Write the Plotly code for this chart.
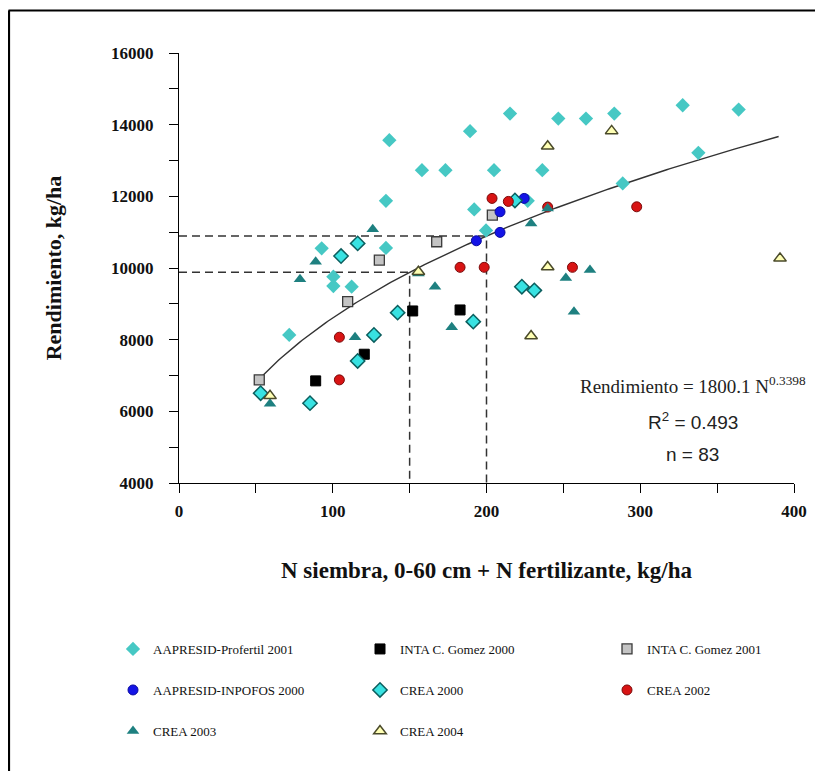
import numpy as np
import plotly.graph_objects as go

# ---------------- data ----------------
profertil_x = [136.8, 189.3, 158.0, 173.3, 134.6, 192.0, 204.9, 199.7, 92.8, 134.6, 100.4, 100.4,
               112.3, 71.7, 215.3, 246.7, 264.7, 283.1, 327.6, 364.0, 337.8, 236.3, 288.6, 226.8]
profertil_y = [13567, 13818, 12731, 12731, 11875, 11635, 12731, 11050, 10548, 10560, 9757, 9497,
               9478, 8132, 14310, 14171, 14171, 14310, 14542, 14422, 13213, 12731, 12360, 11875]

inta2000_x = [152.0, 182.8, 120.5, 88.9]
inta2000_y = [8801, 8829, 7594, 6850]

inta2001_x = [167.6, 130.3, 109.7, 52.2, 203.8]
inta2001_y = [10733, 10222, 9060, 6878, 11477]

infopos_x = [193.4, 208.8, 208.8, 224.5]
infopos_y = [10760, 11569, 10994, 11942]

crea2000_x = [116.2, 105.4, 142.2, 191.4, 126.8, 116.2, 53.1, 85.2, 218.5, 223.0, 231.1]
crea2000_y = [10687, 10334, 8754, 8503, 8132, 7407, 6507, 6228, 11885, 9478, 9376]

crea2002_x = [182.8, 198.5, 104.3, 104.3, 203.6, 214.2, 239.8, 297.7, 255.9]
crea2002_y = [10019, 10019, 8068, 6878, 11942, 11858, 11700, 11708, 10019]

crea2003_x = [126.0, 88.9, 78.7, 155.7, 166.5, 177.4, 114.5, 59.2, 239.8, 229.0, 251.6, 267.3, 256.9]
crea2003_y = [11078, 10175, 9684, 9850, 9478, 8347, 8068, 6209, 11663, 11245, 9721, 9944, 8781]

crea2004_x = [155.7, 59.2, 281.4, 239.8, 239.8, 390.9, 229.0]
crea2004_y = [9896, 6432, 13826, 13400, 10027, 10269, 8104]

# fitted model  Rendimiento = a * N^b
fit_a = 1800.1
fit_b = 0.3398
fit_range = [53, 390]
ref_n = [150, 200]

x_ticks = [0, 100, 200, 300, 400]
y_ticks = [4000, 6000, 8000, 10000, 12000, 14000, 16000]
y_tick_labels = ["4000", "6000", "8000", "10000", "12000", "14000", "16000"]

# ---------------- figure ----------------
SERIF = "Liberation Serif, DejaVu Serif, serif"
NARROW = "Liberation Sans Narrow, Arial Narrow, Liberation Sans, sans-serif"
LINEC = "#333333"

fig = go.Figure()

# dashed reference lines
for n in ref_n:
    yv = fit_a * n ** fit_b
    fig.add_trace(go.Scatter(x=[0, n, n], y=[yv, yv, 4000], mode="lines",
                             line=dict(color=LINEC, width=1.5, dash="8px,5px"),
                             showlegend=False, hoverinfo="skip"))

# fitted curve
xc = np.linspace(fit_range[0], fit_range[1], 200)
fig.add_trace(go.Scatter(x=xc, y=fit_a * xc ** fit_b, mode="lines",
                         line=dict(color=LINEC, width=1.4), showlegend=False, hoverinfo="skip"))

series = [
    ("AAPRESID-Profertil 2001", profertil_x, profertil_y, "diamond", 11, "#46C8C4", "#46C8C4", 0, "legend"),
    ("INTA C. Gomez 2000", inta2000_x, inta2000_y, "square", 10, "#000000", "#000000", 1, "legend"),
    ("INTA C. Gomez 2001", inta2001_x, inta2001_y, "square", 10, "#C4C4C4", "#3A3A3A", 1.3, "legend"),
    ("AAPRESID-INPOFOS 2000", infopos_x, infopos_y, "circle", 10, "#1414E6", "#0A0AA0", 1, "legend2"),
    ("CREA 2000", crea2000_x, crea2000_y, "diamond", 11, "#38E2E2", "#0B5E5E", 1.5, "legend2"),
    ("CREA 2002", crea2002_x, crea2002_y, "circle", 10, "#D81414", "#7A0A0A", 1, "legend2"),
    ("CREA 2003", crea2003_x, crea2003_y, "triangle-up", 11, "#1E8080", "#1E8080", 0, "legend3"),
    ("CREA 2004", crea2004_x, crea2004_y, "triangle-up", 11, "#FFFFB4", "#4A4A2A", 1.5, "legend3"),
]

for name, xs, ys, sym, size, fill, edge, lw, lg in series:
    fig.add_trace(go.Scatter(x=xs, y=ys, mode="markers", name=name, legend=lg,
                             marker=dict(symbol=sym, size=size, color=fill,
                                         line=dict(color=edge, width=lw))))

# equation annotations
ann_font1 = dict(family=SERIF, size=19, color="#222222")
ann_font2 = dict(family=NARROW, size=19, color="#222222")
fig.add_annotation(x=334.3, y=6739, text="Rendimiento = 1800.1 N<sup>0.3398</sup>",
                   showarrow=False, font=ann_font1, xanchor="center", yanchor="middle")
fig.add_annotation(x=334.3, y=5735, text="R<sup>2</sup> = 0.493",
                   showarrow=False, font=ann_font2, xanchor="center", yanchor="middle")
fig.add_annotation(x=334.3, y=4790, text="n = 83",
                   showarrow=False, font=ann_font2, xanchor="center", yanchor="middle")

# helpers: screen pixel -> paper coords (plot area spans x 179..794, y 53..483 on screen)
def px(sx):
    return (sx - 179) / 615

def py(sy):
    return (483 - sy) / 430

# frame lines (top and left of the picture)
fig.add_shape(type="line", xref="paper", yref="paper",
              x0=px(8.5), x1=px(823), y0=py(10.5), y1=py(10.5),
              line=dict(color="black", width=2.2))
fig.add_shape(type="line", xref="paper", yref="paper",
              x0=px(9), x1=px(9), y0=py(10.5), y1=py(775),
              line=dict(color="black", width=2.2))

tickfont = dict(family=SERIF, size=17, color="#111111", weight="bold")
legfont = dict(family=SERIF, size=13, color="#111111")

def leg(ypx):
    return dict(orientation="h", x=px(113), xanchor="left",
                y=py(ypx), yanchor="middle",
                entrywidth=202, entrywidthmode="pixels",
                font=legfont, bgcolor="rgba(0,0,0,0)", borderwidth=0)

fig.update_layout(
    width=815, height=763,
    margin=dict(l=171, r=29, t=45, b=288, autoexpand=False),
    paper_bgcolor="white", plot_bgcolor="white",
    legend=leg(649), legend2=leg(690), legend3=leg(731),
    xaxis=dict(range=[0, 400], tickvals=x_ticks, ticks="outside", ticklen=9, tickwidth=1.2,
               tickcolor="black", showline=True, linecolor="black", linewidth=1.2,
               showgrid=False, zeroline=False, tickfont=tickfont, ticklabelstandoff=3,
               minor=dict(dtick=50, ticks="outside", ticklen=9, tickwidth=1.2, tickcolor="black", showgrid=False),
               title=dict(text="N siembra, 0-60 cm + N fertilizante, kg/ha", standoff=42,
                          font=dict(family=SERIF, size=23, color="#111111", weight="bold"))),
    yaxis=dict(range=[4000, 16000], tickvals=y_ticks, ticktext=y_tick_labels,
               ticks="outside", ticklen=9, tickwidth=1.2,
               tickcolor="black", showline=True, linecolor="black", linewidth=1.2,
               showgrid=False, zeroline=False, tickfont=tickfont, ticklabelstandoff=12,
               minor=dict(dtick=1000, ticks="outside", ticklen=9, tickwidth=1.2, tickcolor="black", showgrid=False),
               title=dict(text="Rendimiento, kg/ha", standoff=43,
                          font=dict(family=SERIF, size=22, color="#111111", weight="bold"))),
)

fig.write_html("out.html")
